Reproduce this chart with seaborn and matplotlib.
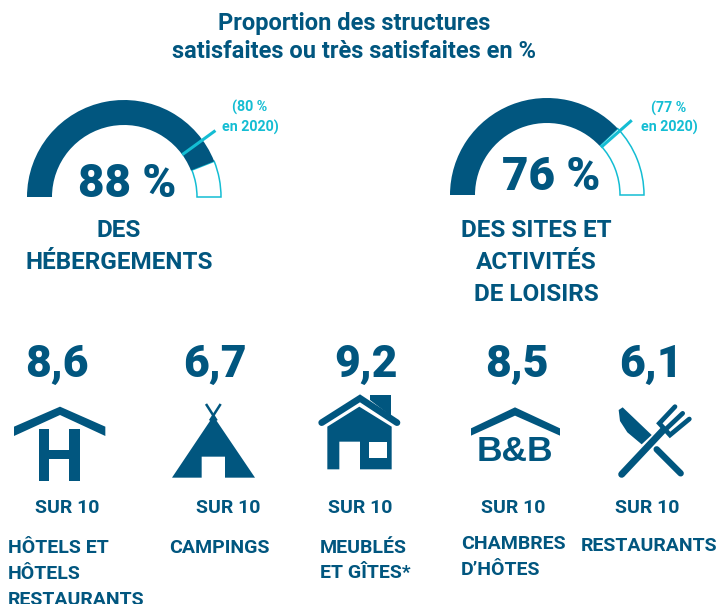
import numpy as np
import matplotlib.pyplot as plt
from matplotlib.patches import Wedge, Polygon
import seaborn as sns

# gauges
gauge_values = [88, 76]
gauge_prev = [80, 77]
gauge_prev_labels = ["(80 %\nen 2020)", "(77 %\nen 2020)"]
gauge_names = [["DES", "HÉBERGEMENTS"], ["DES SITES ET", "ACTIVITÉS", "DE LOISIRS"]]

# scores out of ten
scores = ["8,6", "6,7", "9,2", "8,5", "6,1"]
score_names = [
    ["HÔTELS ET", "HÔTELS", "RESTAURANTS"],
    ["CAMPINGS"],
    ["MEUBLÉS", "ET GÎTES*"],
    ["CHAMBRES", "D’HÔTES"],
    ["RESTAURANTS"],
]
title_lines = ["Proportion des structures", "satisfaites ou très satisfaites en %"]

sns.set_theme(style="white")
plt.rcParams["font.family"] = ["Roboto", "DejaVu Sans"]
DARK = "#01567f"
CYAN = "#14bdd3"

fig, ax = plt.subplots(figsize=(7.17, 6.04), dpi=100)
fig.subplots_adjust(0, 0, 1, 1)
ax.set_xlim(0, 717)
ax.set_ylim(604, 0)
ax.axis("off")


def txt(x, y, s, size, color=DARK, ha="center", weight="bold"):
    ax.text(x, y, s, fontsize=size, color=color, ha=ha, va="baseline",
            fontweight=weight, clip_on=True)


def gauge(cx, cy, value, prev):
    a = 180 + 1.8 * value
    ax.add_patch(Wedge((cx, cy), 97, a, 360, width=24, fc="white", ec=CYAN, lw=1.1))
    ax.add_patch(Wedge((cx, cy), 97, 180, a, width=25, fc=DARK, ec="none"))
    p = np.radians(180 + 1.8 * prev)
    ax.plot([cx + 72 * np.cos(p), cx + 113 * np.cos(p)],
            [cy + 72 * np.sin(p), cy + 113 * np.sin(p)], color=CYAN, lw=2.2,
            solid_capstyle="butt")


gauge(124, 197, gauge_values[0], gauge_prev[0])
gauge(547, 195, gauge_values[1], gauge_prev[1])

for y, s in zip([30, 58], title_lines):
    txt(354, y, s, 17.05)

txt(127, 197, f"{gauge_values[0]} %", 33, weight="black")
txt(551, 190, f"{gauge_values[1]} %", 33, weight="black")

for y, s in zip([112, 132], gauge_prev_labels[0].split("\n")):
    txt(250, y, s, 10.3, CYAN)
for y, s in zip([113, 132], gauge_prev_labels[1].split("\n")):
    txt(669, y, s, 10.3, CYAN)

for y, s in zip([237, 269], gauge_names[0]):
    txt(119, y, s, 17.5)
for y, s in zip([237, 269, 301], gauge_names[1]):
    txt(536, y, s, 17.5)

for x, s in zip([57, 215, 366, 517, 651], scores):
    txt(x, 377, s, 32, weight="black")
for x in [67, 228, 360, 513, 647]:
    txt(x, 513, "SUR 10", 14)

for x, ys, lines in zip([8, 169, 320, 461, 581],
                        [[553, 579, 605], [553], [553, 578], [549, 575], [551]],
                        score_names):
    for y, s in zip(ys, lines):
        txt(x, y, s, 14, ha="left")


# icons, outlines taken in the 3x crop then scaled back
def poly(pts, ox, oy, fc=DARK):
    pts = np.array(pts, dtype=float) / 3 + [ox, oy]
    ax.add_patch(Polygon(pts, closed=True, fc=fc, ec="none"))


def stroke(pts, ox, oy, lw, cap="round", color=DARK):
    pts = np.array(pts, dtype=float) / 3 + [ox, oy]
    ax.plot(pts[:, 0], pts[:, 1], color=color, lw=lw, solid_capstyle=cap,
            solid_joinstyle="miter")


# hotel
poly([(42, 110), (180, 50), (316, 110), (316, 138), (180, 75), (42, 138)], 0, 390)
poly([(116, 118), (146, 118), (146, 180), (208, 180), (208, 118), (240, 118), (240, 272),
      (208, 272), (208, 208), (146, 208), (146, 272), (116, 272)], 0, 390)

# tipi
poly([(640, 78), (765, 263), (675, 263), (675, 200), (605, 200), (605, 263), (516, 263)], 0, 390)
stroke([(618, 42), (650, 92)], 0, 390, 1.8, "butt")
stroke([(662, 42), (630, 92)], 0, 390, 1.8, "butt")

# house
poly([(82, 125), (178, 65), (275, 125), (275, 253), (180, 253), (180, 170), (118, 170),
      (118, 253), (82, 253)], 300, 385)
poly([(207, 172), (260, 172), (260, 220), (207, 220)], 300, 385, "white")
poly([(210, 45), (210, 30), (272, 30), (272, 92)], 300, 385)
stroke([(65, 113), (180, 40), (291, 113)], 300, 385, 4.8)

# b&b
poly([(513, 130), (645, 67), (780, 130), (780, 152), (645, 92), (513, 152)], 300, 385)
ax.text(515, 461, "B&B", fontsize=25.5, color=DARK, ha="center", va="baseline",
        fontweight="bold", family="Liberation Sans")

# knife and fork
poly([(26, 45), (38, 37), (125, 120), (95, 148), (52, 112), (30, 78)], 610, 395)
stroke([(140, 163), (212, 235)], 610, 395, 4.6)
stroke([(35, 238), (160, 105)], 610, 395, 5)
stroke([(195, 35), (148, 85), (180, 120), (238, 72)], 610, 395, 3.4)
stroke([(218, 55), (165, 105)], 610, 395, 3.4)

fig.savefig("out.png", dpi=100)
